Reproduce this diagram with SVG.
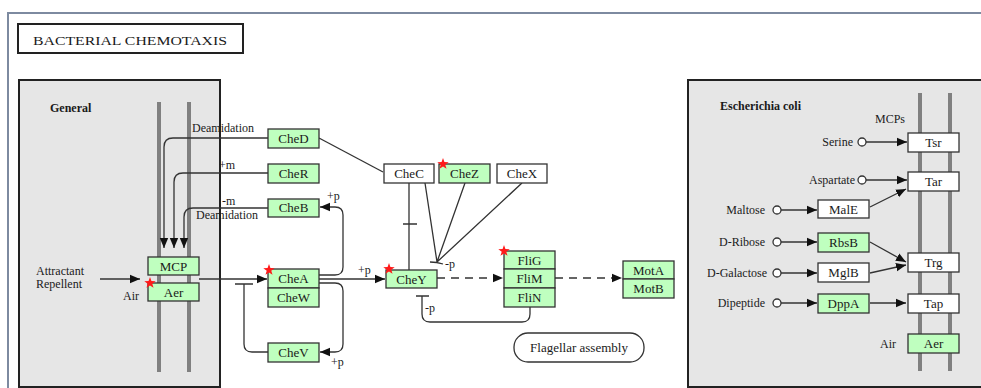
<svg xmlns="http://www.w3.org/2000/svg" width="981" height="388" viewBox="0 0 981 388">
<style>
text{font-family:"Liberation Serif","Times New Roman",serif;fill:#1a1a1a;font-size:12px}
.b{fill:#bfffbf;stroke:#333;stroke-width:1.3}
.w{fill:#fff;stroke:#333;stroke-width:1.3}
.c{text-anchor:middle;font-size:13px}
.e{text-anchor:end}
.ln{fill:none;stroke:#333;stroke-width:1.3}
.ar{marker-end:url(#arr)}
.d{stroke-dasharray:8 6}
.mem{stroke:#808080;stroke-width:4}
.cell{fill:#e6e6e6;stroke:#222;stroke-width:2}
.st{fill:#ff1a1a}
.o{fill:#fff;stroke:#333;stroke-width:1.3}
</style>
<defs>
<marker id="arr" markerUnits="userSpaceOnUse" markerWidth="10" markerHeight="10" viewBox="0 0 10 10" refX="10" refY="5" orient="auto">
<path d="M0,0.8 L10,5 L0,9.2 Z" fill="#111"/>
</marker>
<path id="star" d="M0,-6 L1.41,-1.94 L5.71,-1.85 L2.28,0.74 L3.53,4.85 L0,2.4 L-3.53,4.85 L-2.28,0.74 L-5.71,-1.85 L-1.41,-1.94 Z"/>
</defs>
<rect width="981" height="388" fill="#fff"/>
<path d="M8,388 V13 H981" fill="none" stroke="#7d8aa0" stroke-width="2"/>
<g id="title">
<rect x="18" y="24" width="225" height="29" fill="#fff" stroke="#222" stroke-width="2"/>
<text x="33" y="45" font-size="16" textLength="194" lengthAdjust="spacingAndGlyphs">BACTERIAL  CHEMOTAXIS</text>
</g>
<g id="general">
<rect class="cell" x="19" y="80" width="201" height="307"/>
<text x="50" y="112" font-weight="bold">General</text>
<line class="mem" x1="159" y1="102" x2="159" y2="372"/>
<line class="mem" x1="189" y1="102" x2="189" y2="372"/>
</g>
<g id="ecoli">
<rect class="cell" x="688" y="80" width="300" height="307"/>
<text x="720" y="110" font-weight="bold">Escherichia coli</text>
<text x="875" y="123">MCPs</text>
<line class="mem" x1="920" y1="93" x2="920" y2="371"/>
<line class="mem" x1="950" y1="93" x2="950" y2="371"/>
</g>
<g id="connectors">
<path class="ln ar" d="M268,138 H173 Q164,138 164,147 V248"/>
<path class="ln ar" d="M268,173 H183 Q174,173 174,182 V248"/>
<path class="ln ar" d="M268,208 H193 Q184,208 184,217 V248"/>
<path class="ln ar" d="M100,279 H140"/>
<path class="ln ar" d="M199,279 H267"/>
<path class="ln" d="M268,352 H252 Q244,352 244,344 V284 M235,284 H253"/>
<path class="ln ar" d="M319,275 H335 Q343,275 343,267 V215 Q343,207 335,207 H320"/>
<path class="ln ar" d="M319,283 H335 Q343,283 343,291 V344 Q343,352 335,352 H320"/>
<path class="ln ar" d="M319,279 H385"/>
<path class="ln" d="M319,138 L383,172"/>
<path class="ln" d="M409,183 V270 M403,224 H417"/>
<path class="ln" d="M425,183 L437,262 M465,183 L437,262 M522,183 L437,262 M430,262 Q437,262 443,264"/>
<path class="ln ar d" d="M437,278 H503"/>
<path class="ln ar d" d="M555,278 H622"/>
<path class="ln" d="M530,307 V314 Q530,322 522,322 H430 Q422,322 422,314 V296 M416,296 H429"/>
<path class="ln ar" d="M866,142 H907"/>
<path class="ln ar" d="M866,180 H907"/>
<path class="ln ar" d="M781,210 H817"/>
<path class="ln ar" d="M870,207 L906,189"/>
<path class="ln ar" d="M781,242 H817"/>
<path class="ln ar" d="M870,242 L906,262"/>
<path class="ln ar" d="M781,273 H817"/>
<path class="ln ar" d="M870,273 L906,265"/>
<path class="ln ar" d="M781,303 H817"/>
<path class="ln ar" d="M870,303 H906"/>
<circle class="o" cx="862" cy="142" r="4"/>
<circle class="o" cx="862" cy="180" r="4"/>
<circle class="o" cx="777" cy="210" r="4"/>
<circle class="o" cx="777" cy="242" r="4"/>
<circle class="o" cx="777" cy="273" r="4"/>
<circle class="o" cx="777" cy="303" r="4"/>
</g>
<g id="labels">
<text x="192" y="132">Deamidation</text>
<text x="219" y="169">+m</text>
<text x="222" y="205">-m</text>
<text x="196" y="219">Deamidation</text>
<text x="36" y="275" font-size="11.5">Attractant</text>
<text x="36" y="288" font-size="11.5">Repellent</text>
<text x="123" y="300">Air</text>
<text x="327" y="200">+p</text>
<text x="331" y="366">+p</text>
<text x="358" y="274">+p</text>
<text x="445" y="268">-p</text>
<text x="425" y="312">-p</text>
<text x="853" y="146" class="e">Serine</text>
<text x="855" y="184" class="e">Aspartate</text>
<text x="765" y="214" class="e">Maltose</text>
<text x="765" y="246" class="e">D-Ribose</text>
<text x="767" y="277" class="e">D-Galactose</text>
<text x="765" y="307" class="e">Dipeptide</text>
<text x="880" y="348">Air</text>
</g>
<g id="MCP"><rect class="b" x="148" y="257" width="51" height="18"/><text class="c" x="173.5" y="271">MCP</text></g>
<g id="Aer"><rect class="b" x="148" y="283" width="51" height="18"/><text class="c" x="173.5" y="297">Aer</text><use href="#star" class="st" x="150" y="283"/></g>
<g id="CheD"><rect class="b" x="268" y="129" width="51" height="19"/><text class="c" x="293.5" y="143">CheD</text></g>
<g id="CheR"><rect class="b" x="268" y="164" width="51" height="19"/><text class="c" x="293.5" y="178">CheR</text></g>
<g id="CheB"><rect class="b" x="268" y="199" width="51" height="18"/><text class="c" x="293.5" y="212">CheB</text></g>
<g id="CheA"><rect class="b" x="268" y="269" width="51" height="19"/><text class="c" x="293.5" y="283">CheA</text><use href="#star" class="st" x="269" y="270"/></g>
<g id="CheW"><rect class="b" x="268" y="288" width="51" height="19"/><text class="c" x="293.5" y="302">CheW</text></g>
<g id="CheV"><rect class="b" x="268" y="343" width="51" height="19"/><text class="c" x="293.5" y="357">CheV</text></g>
<g id="CheC"><rect class="w" x="384" y="164" width="50" height="19"/><text class="c" x="409" y="178">CheC</text></g>
<g id="CheZ"><rect class="b" x="439" y="164" width="51" height="19"/><text class="c" x="464.5" y="178">CheZ</text><use href="#star" class="st" x="443" y="164"/></g>
<g id="CheX"><rect class="w" x="497" y="164" width="50" height="19"/><text class="c" x="522" y="178">CheX</text></g>
<g id="CheY"><rect class="b" x="386" y="270" width="51" height="18"/><text class="c" x="411.5" y="284">CheY</text><use href="#star" class="st" x="389" y="269"/></g>
<g id="FliG"><rect class="b" x="504" y="251" width="51" height="18"/><text class="c" x="529.5" y="265">FliG</text><use href="#star" class="st" x="504" y="251"/></g>
<g id="FliM"><rect class="b" x="504" y="269" width="51" height="19"/><text class="c" x="529.5" y="283">FliM</text></g>
<g id="FliN"><rect class="b" x="504" y="288" width="51" height="19"/><text class="c" x="529.5" y="302">FliN</text></g>
<g id="MotA"><rect class="b" x="623" y="261" width="51" height="18"/><text class="c" x="648.5" y="275">MotA</text></g>
<g id="MotB"><rect class="b" x="623" y="279" width="51" height="19"/><text class="c" x="648.5" y="293">MotB</text></g>
<g id="Flagellar"><rect x="514" y="333" width="130" height="29" rx="14" fill="#fff" stroke="#333" stroke-width="1.3"/><text class="c" x="579" y="352">Flagellar assembly</text></g>
<g id="Tsr"><rect class="w" x="908" y="133" width="51" height="19"/><text class="c" x="933.5" y="147">Tsr</text></g>
<g id="Tar"><rect class="w" x="908" y="172" width="51" height="19"/><text class="c" x="933.5" y="186">Tar</text></g>
<g id="MalE"><rect class="w" x="818" y="200" width="51" height="18"/><text class="c" x="843.5" y="214">MalE</text></g>
<g id="RbsB"><rect class="b" x="818" y="233" width="51" height="19"/><text class="c" x="843.5" y="247">RbsB</text></g>
<g id="MglB"><rect class="w" x="818" y="263" width="51" height="19"/><text class="c" x="843.5" y="277">MglB</text></g>
<g id="DppA"><rect class="b" x="818" y="294" width="51" height="19"/><text class="c" x="843.5" y="308">DppA</text></g>
<g id="Trg"><rect class="w" x="908" y="253" width="51" height="19"/><text class="c" x="933.5" y="267">Trg</text></g>
<g id="Tap"><rect class="w" x="908" y="294" width="51" height="19"/><text class="c" x="933.5" y="308">Tap</text></g>
<g id="Aer2"><rect class="b" x="908" y="334" width="51" height="19"/><text class="c" x="933.5" y="348">Aer</text></g>
</svg>
